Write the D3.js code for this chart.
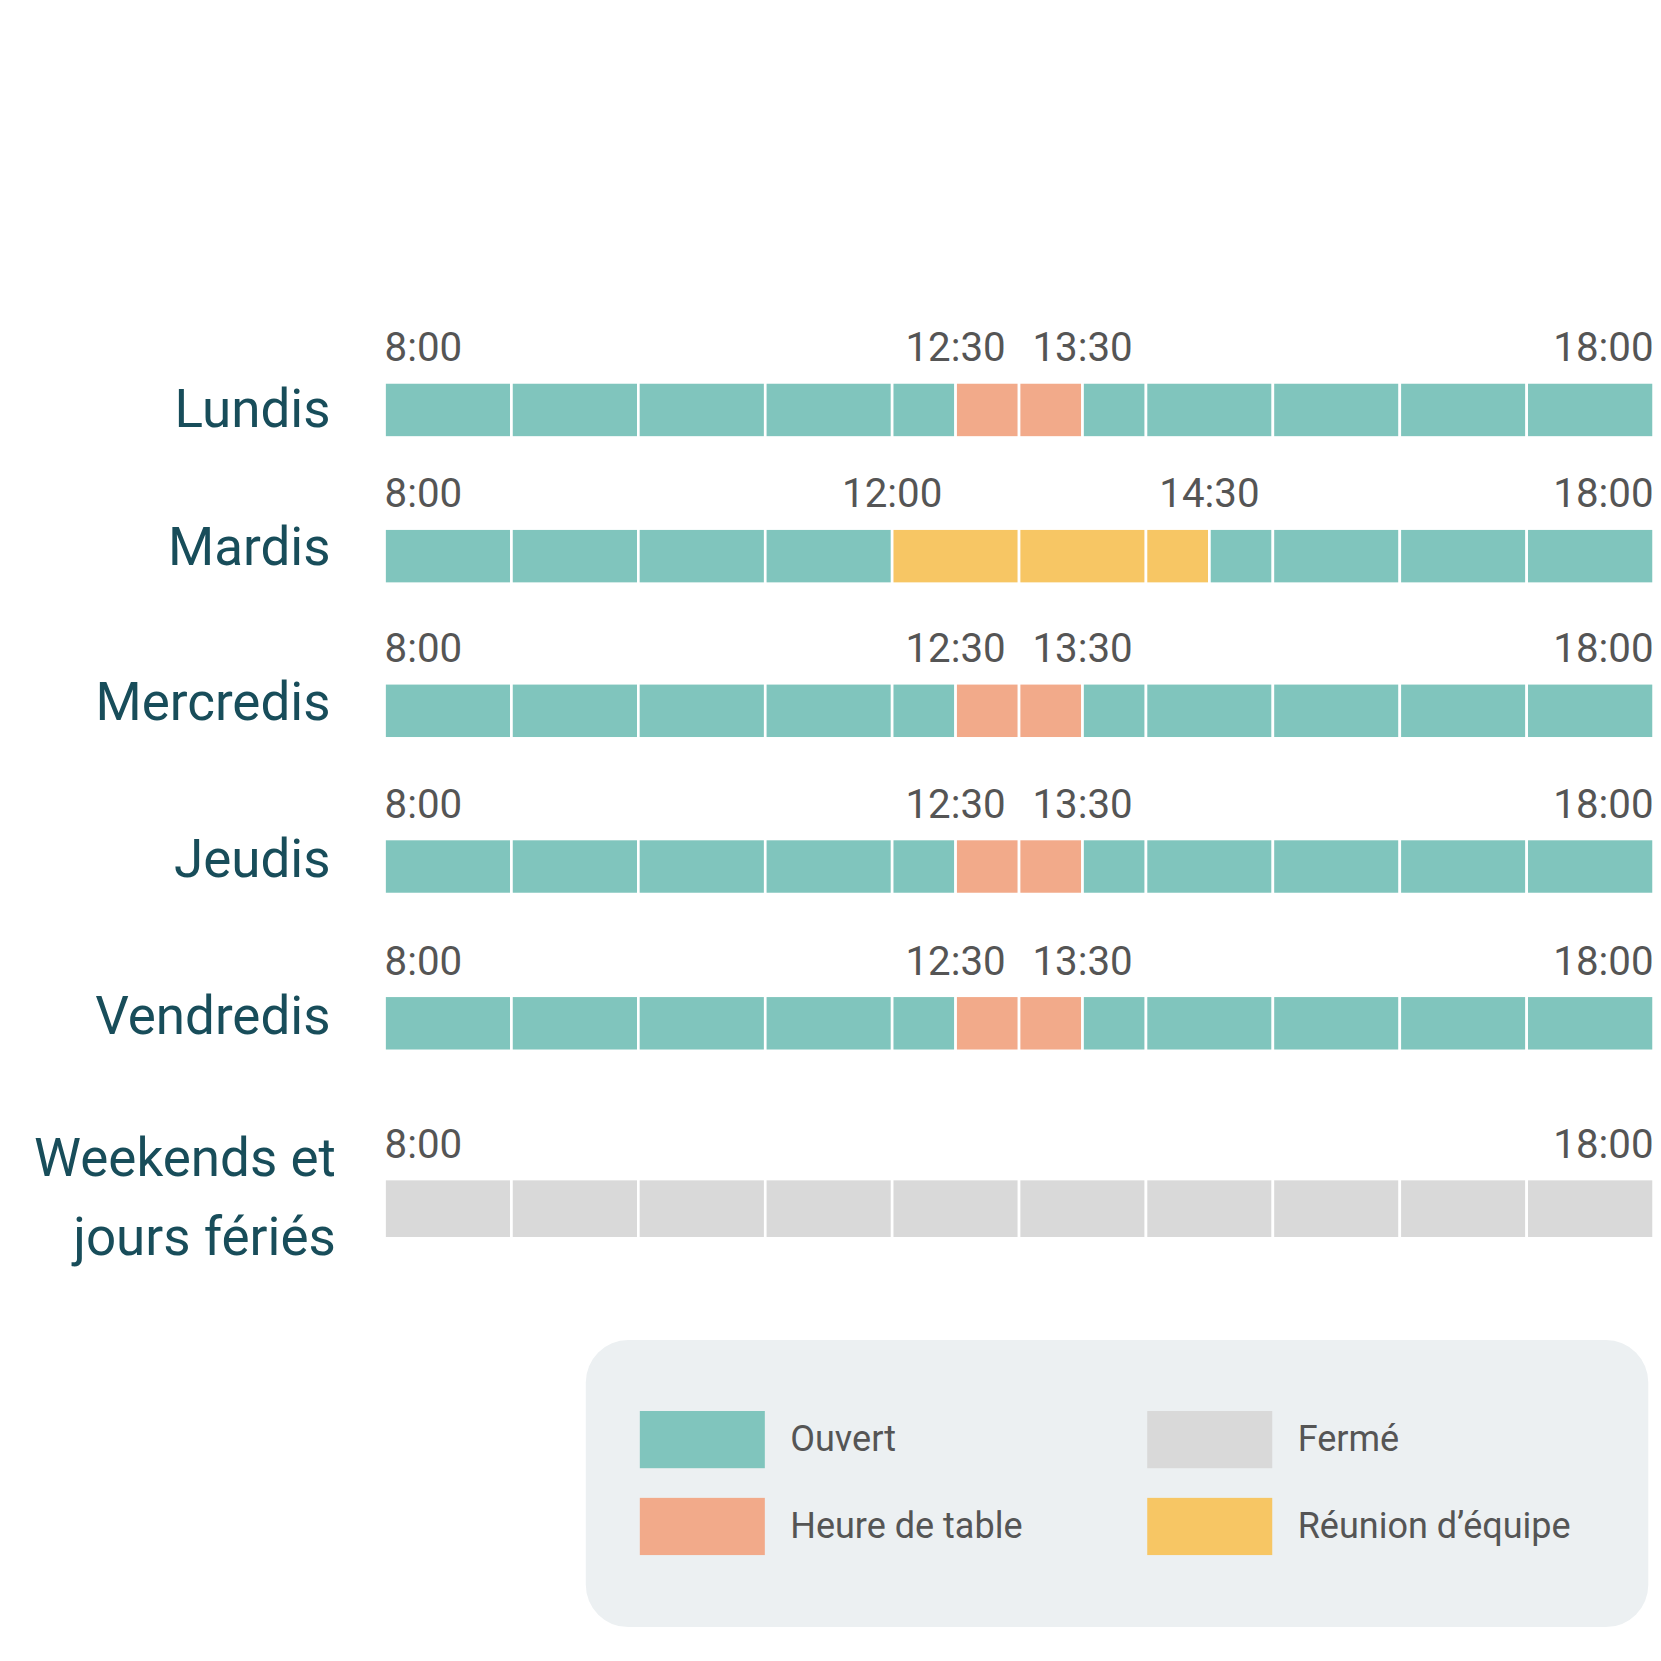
<!DOCTYPE html>
<html><head><meta charset="utf-8">
<script src="https://cdn.jsdelivr.net/npm/d3@7"></script>
<style>body{margin:0;background:#fff}svg{display:block;font-family:Roboto,"Noto Sans",sans-serif}</style>
</head><body>
<svg id="chart" width="1661" height="1661" viewBox="0 0 1568 1568"></svg>
<script>
// Schedule data: each segment is [start hour, end hour, status]
var days = ["Lundis", "Mardis", "Mercredis", "Jeudis", "Vendredis", "Weekends et|jours fériés"];
var lunchWeek = [[8,9,"o"],[9,10,"o"],[10,11,"o"],[11,12,"o"],[12,12.5,"o"],[12.5,13,"h"],[13,13.5,"h"],[13.5,14,"o"],[14,15,"o"],[15,16,"o"],[16,17,"o"],[17,18,"o"]];
var mardi = [[8,9,"o"],[9,10,"o"],[10,11,"o"],[11,12,"o"],[12,13,"r"],[13,14,"r"],[14,14.5,"r"],[14.5,15,"o"],[15,16,"o"],[16,17,"o"],[17,18,"o"]];
var weekend = [[8,9,"f"],[9,10,"f"],[10,11,"f"],[11,12,"f"],[12,13,"f"],[13,14,"f"],[14,15,"f"],[15,16,"f"],[16,17,"f"],[17,18,"f"]];
var segments = [lunchWeek, mardi, lunchWeek, lunchWeek, lunchWeek, weekend];
var tickHours = [[8,12.5,13.5,18],[8,12,14.5,18],[8,12.5,13.5,18],[8,12.5,13.5,18],[8,12.5,13.5,18],[8,18]];
var statusKeys = ["o","f","h","r"];
var statusNames = ["Ouvert","Fermé","Heure de table","Réunion d’équipe"];
var statusColors = ["#80c5bd","#d9d9d9","#f2aa8a","#f7c664"];

var svg = d3.select("#chart");
var x = d3.scaleLinear().domain([8,18]).range([363,1561]);
var color = d3.scaleOrdinal().domain(statusKeys).range(statusColors);
var barTop = [361,499,645,792,940,1113];
var barH = [52,52,52,52,52,56];
var labelY = [403,533,680,828,976,1110];

function fmt(h) {
  var m = Math.round((h % 1) * 60);
  return Math.floor(h) + ":" + (m < 10 ? "0" + m : m);
}

days.forEach(function(day, i) {
  var g = svg.append("g");
  g.selectAll("rect").data(segments[i]).enter().append("rect")
    .attr("x", d => x(d[0]))
    .attr("y", barTop[i])
    .attr("width", d => x(d[1]) - x(d[0]))
    .attr("height", barH[i])
    .attr("fill", d => color(d[2]))
    .attr("stroke", "#fff").attr("stroke-width", 2.5);

  g.selectAll("text.tick").data(tickHours[i]).enter().append("text")
    .attr("class", "tick")
    .attr("x", d => x(d))
    .attr("y", barTop[i] - 20)
    .attr("text-anchor", d => d === 8 ? "start" : (d === 18 ? "end" : "middle"))
    .attr("fill", "#555").attr("font-size", 38)
    .text(fmt);

  var lines = day.split("|");
  lines.forEach(function(l, j) {
    g.append("text")
      .attr("x", lines.length > 1 ? 317 : 312)
      .attr("y", labelY[i] + j * 75)
      .attr("text-anchor", "end")
      .attr("fill", "#184d5a").attr("font-size", 50)
      .text(l);
  });
});

// Legend
var lg = svg.append("g");
lg.append("rect").attr("x", 553).attr("y", 1265).attr("width", 1003).attr("height", 271)
  .attr("rx", 40).attr("fill", "#ecf0f2");
var legX = [604, 1083], legY = [1332, 1414];
statusKeys.forEach(function(k, i) {
  var cx = legX[i % 2], cy = legY[Math.floor(i / 2)];
  lg.append("rect").attr("x", cx).attr("y", cy).attr("width", 118).attr("height", 54)
    .attr("fill", color(k));
  lg.append("text").attr("x", cx + 142).attr("y", cy + 38)
    .attr("fill", "#555").attr("font-size", 34).text(statusNames[i]);
});
</script>
</body></html>
